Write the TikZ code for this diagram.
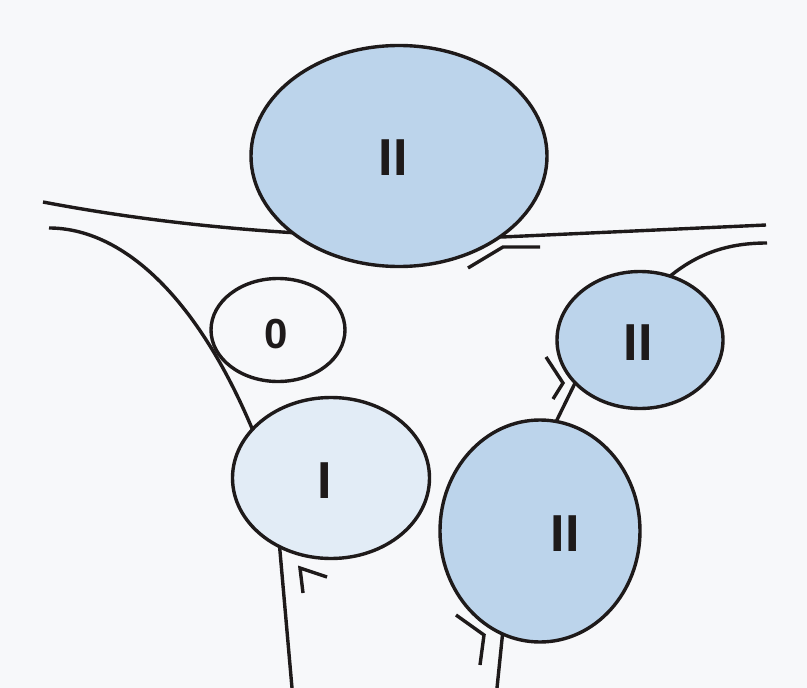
\documentclass[tikz,border=0pt]{standalone}
\usepackage{fontspec}
\setmainfont{Liberation Sans}
\usetikzlibrary{shapes.geometric}
\definecolor{bg}{HTML}{F7F8FA}
\definecolor{blueII}{HTML}{BCD4EB}
\definecolor{blueI}{HTML}{E2ECF6}
\definecolor{ink}{HTML}{1E1A1A}
\tikzset{
  cell/.style={ellipse, draw=ink, line width=3.4pt, inner sep=0pt},
  lab/.style={font=\bfseries\fontsize{52}{52}\selectfont, text=ink, inner sep=0pt},
  labsmall/.style={font=\bfseries\fontsize{42}{42}\selectfont, text=ink, inner sep=0pt},
  wire/.style={draw=ink, line width=3.4pt},
  tick/.style={draw=ink, line width=3.4pt, line join=miter}
}
\begin{document}
\begin{tikzpicture}[x=1pt,y=-1pt]
\fill[bg] (0,0) rectangle (807,688);
\useasboundingbox (0,0) rectangle (807,688);
% coordinates for free ends
\coordinate (tl) at (43,202);
\coordinate (tm) at (502,237);
\coordinate (tr) at (766,225);
\coordinate (ll) at (49,228);
\coordinate (le) at (256,438);
\coordinate (ib) at (279,540);
\coordinate (ibot) at (292,688);
\coordinate (mr1) at (660,285);
\coordinate (mr) at (767,243);
\coordinate (ma) at (578,377);
\coordinate (mb) at (553,428);
\coordinate (bb) at (504,620);
\coordinate (bbot) at (497,688);
% lines behind the cells
\draw[wire] (tl) .. controls (180,228) and (330,240) .. (tm) -- (tr);
\draw[wire] (ll) .. controls (120,228) and (197,293) .. (le);
\draw[wire] (ib) -- (ibot);
\draw[wire] (mr1) .. controls (695,252) and (730,243) .. (mr);
\draw[wire] (ma) -- (mb);
\draw[wire] (bb) -- (bbot);
% cells
\node[cell, fill=blueII, minimum width=296pt, minimum height=221pt] (top) at (399,156) {};
\node[lab] (topl) at (393,158) {II};
\node[cell, fill=bg, minimum width=134pt, minimum height=103pt] (zero) at (278,330) {};
\node[labsmall] (zerol) at (276,334) {0};
\node[cell, fill=blueI, minimum width=197pt, minimum height=161pt] (one) at (331,478) {};
\node[lab] (onel) at (325,481) {I};
\node[cell, fill=blueII, minimum width=166pt, minimum height=137pt] (mid) at (640,340) {};
\node[lab] (midl) at (638,343) {II};
\node[cell, fill=blueII, minimum width=200pt, minimum height=222pt] (big) at (540,531) {};
\node[lab] (bigl) at (565,534) {II};
% tick marks
\draw[tick] (468,268) -- (503,247) -- (540,247);
\draw[tick] (303,593) -- (300,568) -- (327,577);
\draw[tick] (546,357) -- (563,383) -- (553,399);
\draw[tick] (456,615) -- (484,635) -- (480,665);
\end{tikzpicture}
\end{document}
